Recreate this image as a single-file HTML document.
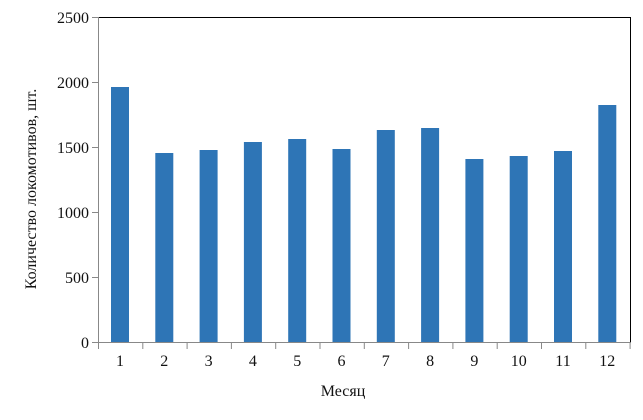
<!DOCTYPE html>
<html><head><style>body{margin:0;background:#fff}svg{display:block}</style></head><body>
<svg width="643" height="420" xmlns="http://www.w3.org/2000/svg" font-family="Liberation Serif, serif" font-size="16" fill="#111">
<rect width="643" height="420" fill="#fff"/>
<g fill="#2e75b6">
<rect x="111" y="87" width="18" height="255.5"/>
<rect x="155.3" y="153" width="18" height="189.5"/>
<rect x="199.6" y="150" width="18" height="192.5"/>
<rect x="243.9" y="142" width="18" height="200.5"/>
<rect x="288.2" y="139" width="18" height="203.5"/>
<rect x="332.5" y="149" width="18" height="193.5"/>
<rect x="376.8" y="130" width="18" height="212.5"/>
<rect x="421.1" y="128" width="18" height="214.5"/>
<rect x="465.4" y="159" width="18" height="183.5"/>
<rect x="509.7" y="156" width="18" height="186.5"/>
<rect x="554" y="151" width="18" height="191.5"/>
<rect x="598.3" y="105" width="18" height="237.5"/>
</g>
<path d="M98.5 17.5H630.5V342.5" fill="none" stroke="#000" stroke-width="1"/>
<g stroke="#888" stroke-width="1" fill="none">
<path d="M98.5 17V342.5H630.5"/>
<path d="M92 17.5H98.5M92 82.5H98.5M92 147.5H98.5M92 212.5H98.5M92 277.5H98.5M92 342.5H98.5"/>
<path d="M98.5 342.5V349M142.8 342.5V349M187.1 342.5V349M231.4 342.5V349M275.7 342.5V349M320 342.5V349M364.3 342.5V349M408.6 342.5V349M452.9 342.5V349M497.2 342.5V349M541.5 342.5V349M585.8 342.5V349M630.1 342.5V349"/>
</g>
<g text-anchor="end">
<text x="89" y="23">2500</text><text x="89" y="88">2000</text><text x="89" y="153">1500</text><text x="89" y="218">1000</text><text x="89" y="283">500</text><text x="89" y="348">0</text>
</g>
<g text-anchor="middle">
<text x="120" y="366">1</text><text x="164.3" y="366">2</text><text x="208.6" y="366">3</text><text x="252.9" y="366">4</text><text x="297.2" y="366">5</text><text x="341.5" y="366">6</text><text x="385.8" y="366">7</text><text x="430.1" y="366">8</text><text x="474.4" y="366">9</text><text x="518.7" y="366">10</text><text x="563" y="366">11</text><text x="607.3" y="366">12</text>
<text x="343" y="396">Месяц</text>
<text transform="translate(36 189) rotate(-90)">Количество локомотивов, шт.</text>
</g>
</svg>
</body></html>
